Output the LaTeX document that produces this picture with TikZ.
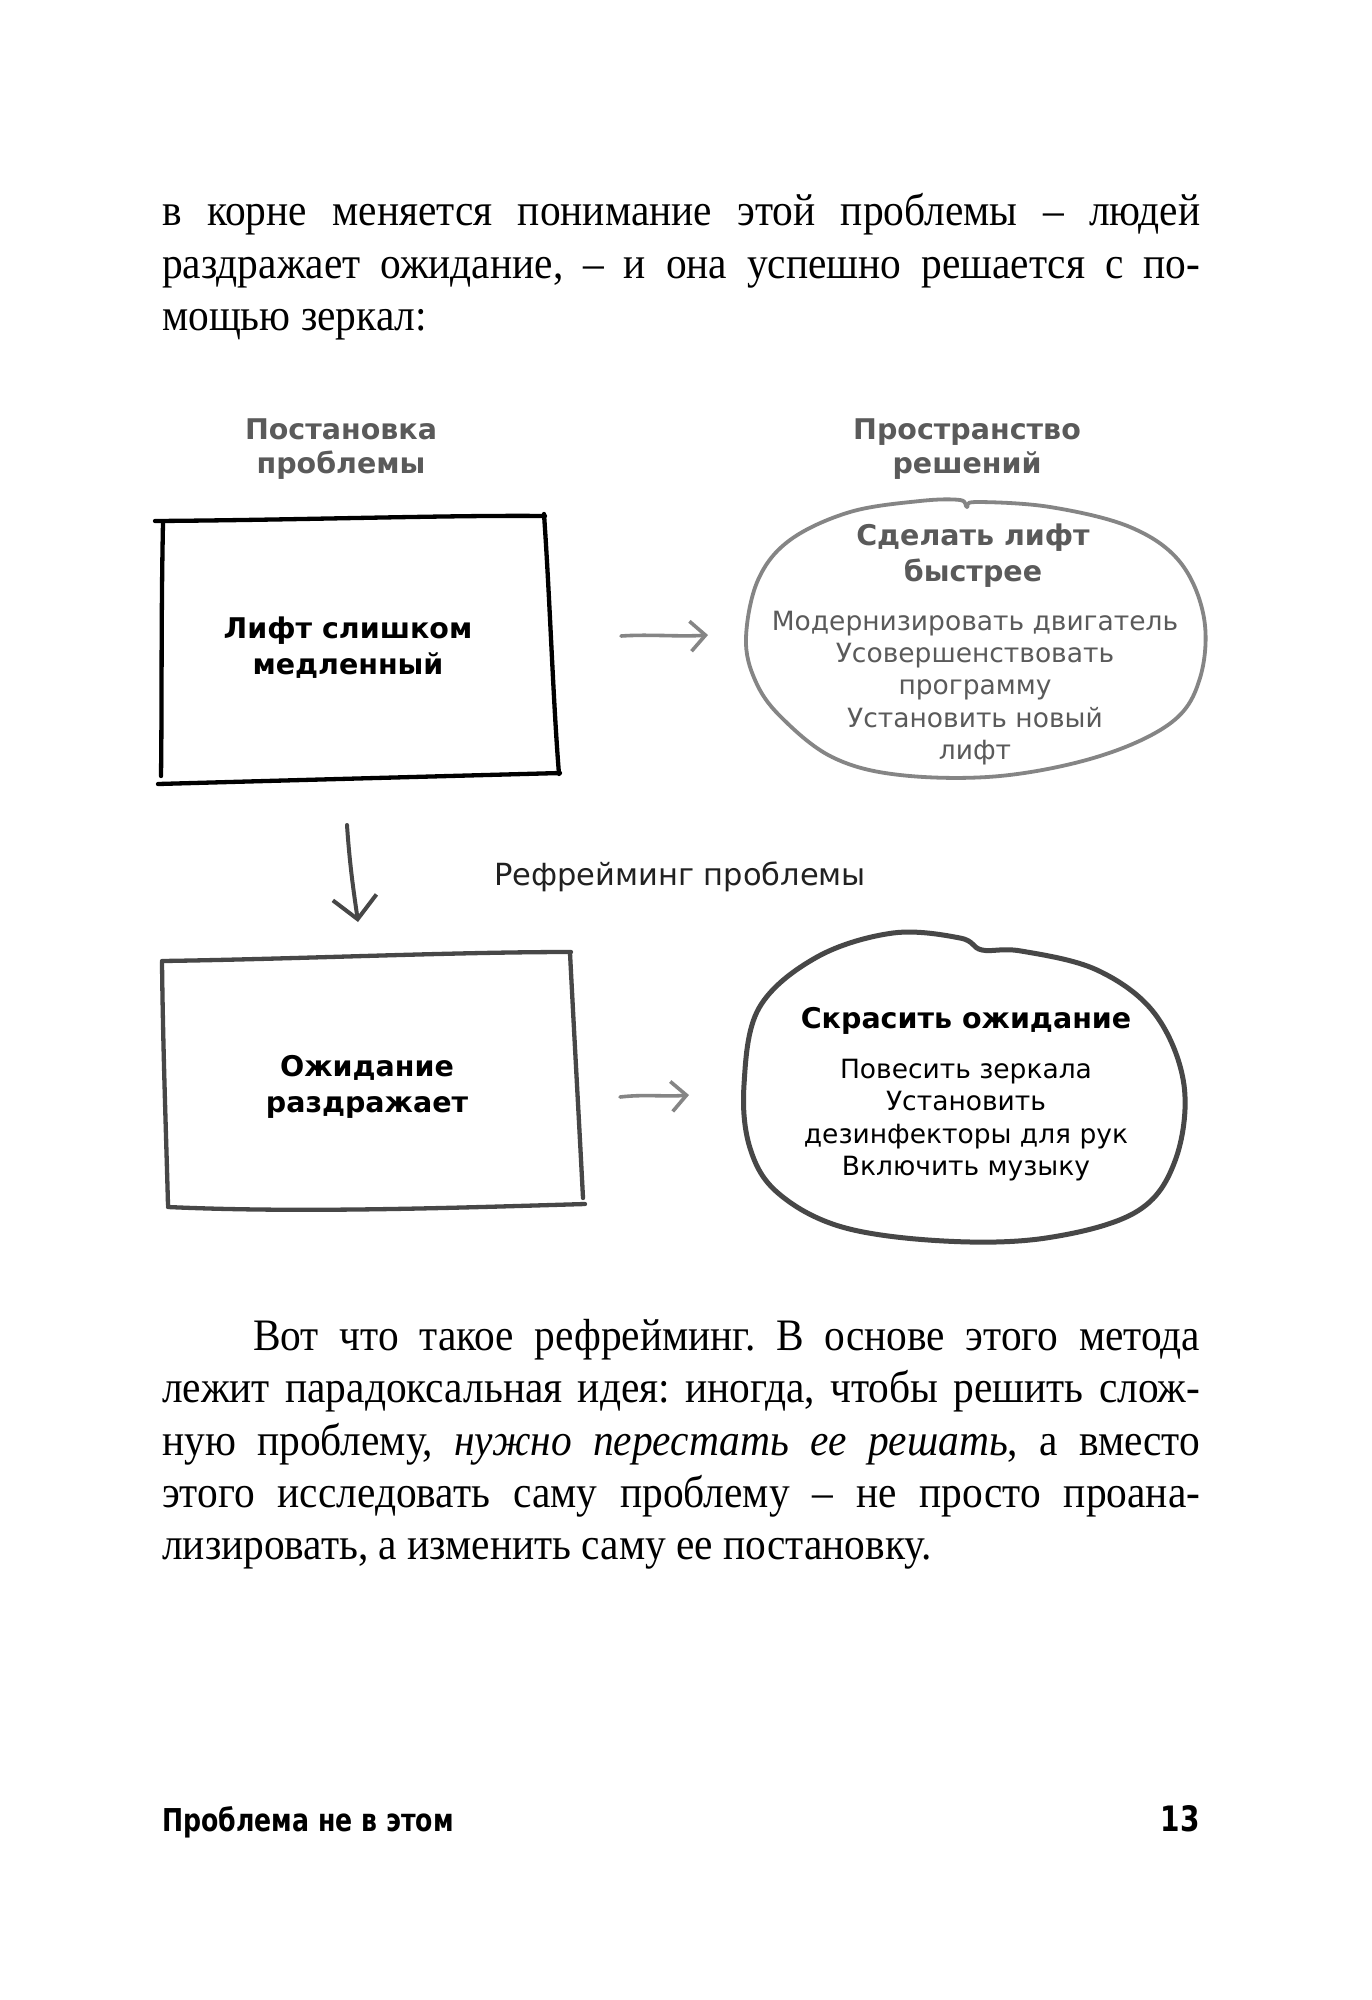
\documentclass[tikz,border=0pt]{standalone}
\usepackage{fontspec}
\setmainfont{Liberation Serif}[FakeStretch=0.92]
\newfontfamily\dvsans{DejaVu Sans}
\newfontfamily\footfont{DejaVu Sans}[FakeStretch=0.8]
\usetikzlibrary{arrows.meta}
\definecolor{cgrayA}{HTML}{858585}
\definecolor{cgrayB}{HTML}{474747}
\definecolor{cgrayT}{HTML}{5A5A5A}
\frenchspacing
\tikzset{
  bodyline/.style={anchor=base west, inner sep=0pt, font=\fontsize{45}{52}\selectfont},
  titletext/.style={inner sep=0pt, align=center, text=cgrayT, font=\dvsans\bfseries\fontsize{28.5}{34}\selectfont},
  headtext/.style={inner sep=0pt, align=center, font=\dvsans\bfseries\fontsize{28.5}{36}\selectfont},
  listtext/.style={inner sep=0pt, align=center, font=\dvsans\fontsize{26.5}{32.3}\selectfont},
  handline/.style={line width=4.3pt, line cap=round, line join=round},
  grayarrow/.style={line width=3.6pt, line cap=round, cgrayA, -{Straight Barb[length=15pt,width=30pt,line width=3.6pt]}},
  downarrow/.style={line width=4pt, line cap=round, cgrayB, -{Straight Barb[length=22pt,width=44pt,line width=4pt]}},
}
\begin{document}
\begin{tikzpicture}[x=1pt,y=-1pt]
\useasboundingbox (0,0) rectangle (1372,2000);
\fill[white] (0,0) rectangle (1372,2000);

% paragraph 1
\node[bodyline] (p1a) at (162,225) {\makebox[1038pt][s]{в корне меняется понимание этой проблемы – людей}};
\node[bodyline] (p1b) at (162,278) {\makebox[1038pt][s]{раздражает ожидание, – и она успешно решается с по-}};
\node[bodyline] (p1c) at (162,330) {мощью зеркал:};

% column titles
\node[titletext] (t1) at (341,449) {Постановка\\проблемы};
\node[titletext] (t2) at (967,449) {Пространство\\решений};

% box 1
\draw[handline, black] (155,521) .. controls (300,520) and (450,515) .. (545,516);
\draw[handline, black] (544,514) .. controls (550,600) and (553,700) .. (559,774);
\draw[handline, black] (158,784) .. controls (300,780) and (450,776) .. (560,773);
\draw[handline, black] (163,523) .. controls (161,620) and (162,700) .. (161,776);
\node[headtext] (b1) at (348,648) {Лифт слишком\\медленный};

% blob 1
\draw[line width=3.8pt, cgrayA, line join=round] plot[smooth cycle, tension=0.6] coordinates {
 (746,638) (758,580) (790,540) (850,512) (920,501) (960,500) (967,507) (976,502)
 (1050,507) (1130,527) (1180,562) (1204,618) (1200,678) (1172,722) (1100,756)
 (1000,776) (900,775) (832,757) (780,716) (755,680)};
\node[headtext, text=cgrayT] (s1h) at (973,556) {Сделать лифт\\быстрее};
\node[listtext, text=cgrayT] (s1l) at (975,688) {Модернизировать двигатель\\Усовершенствовать\\программу\\Установить новый\\лифт};

% arrow 1
\coordinate (a1s) at (621,636);
\coordinate (a1e) at (708,635);
\draw[grayarrow] (a1s) .. controls (650,634) and (680,637) .. (a1e);

% reframing arrow
\coordinate (d1s) at (347,825);
\coordinate (d1e) at (358,922);
\draw[downarrow] (d1s) .. controls (350,870) and (355,900) .. (d1e);
\node[inner sep=0pt, text=black!87, font=\dvsans\fontsize{30.5}{36}\selectfont] (rf) at (680,877) {Рефрейминг проблемы};

% box 2
\draw[handline, cgrayB] (162,961) .. controls (300,959) and (450,952) .. (571,952);
\draw[handline, cgrayB] (570,953) .. controls (575,1050) and (579,1120) .. (583,1198);
\draw[handline, cgrayB] (168,1207) .. controls (300,1213) and (450,1208) .. (585,1204);
\draw[handline, cgrayB] (162,962) .. controls (163,1050) and (166,1130) .. (168,1205);
\node[headtext] (b2) at (367,1087) {Ожидание\\раздражает};

% arrow 2
\coordinate (a2s) at (620,1097);
\coordinate (a2e) at (689,1095);
\draw[grayarrow] (a2s) .. controls (645,1094) and (665,1097) .. (a2e);

% blob 2
\draw[line width=5pt, cgrayB, line join=round] plot[smooth cycle, tension=0.6] coordinates {
 (744,1085) (759,1008) (817,957) (893,933) (960,938) (982,950) (1021,951) (1097,970)
 (1155,1014) (1184,1085) (1175,1161) (1136,1212) (1046,1238) (944,1241) (842,1227)
 (778,1193) (750,1148)};
\node[headtext] (s2h) at (966,1021) {Скрасить ожидание};
\node[listtext] (s2l) at (966,1120) {Повесить зеркала\\Установить\\дезинфекторы для рук\\Включить музыку};

% paragraph 2
\node[bodyline] (p2a) at (253,1350) {\makebox[947pt][s]{Вот что такое рефрейминг. В основе этого метода}};
\node[bodyline] (p2b) at (162,1402) {\makebox[1038pt][s]{лежит парадоксальная идея: иногда, чтобы решить слож-}};
\node[bodyline] (p2c) at (162,1455) {\makebox[1038pt][s]{ную проблему, \textit{нужно перестать ее решать}, а вместо}};
\node[bodyline] (p2d) at (162,1507) {\makebox[1038pt][s]{этого исследовать саму проблему – не просто проана-}};
\node[bodyline] (p2e) at (162,1559) {лизировать, а изменить саму ее постановку.};

% footer
\node[anchor=base west, inner sep=0pt, font=\footfont\bfseries\fontsize{31.5}{36}\selectfont] (ft) at (162,1831) {Проблема не в этом};
\node[anchor=base east, inner sep=0pt, font=\footfont\bfseries\fontsize{35}{40}\selectfont] (pg) at (1200,1831) {13};
\end{tikzpicture}
\end{document}
